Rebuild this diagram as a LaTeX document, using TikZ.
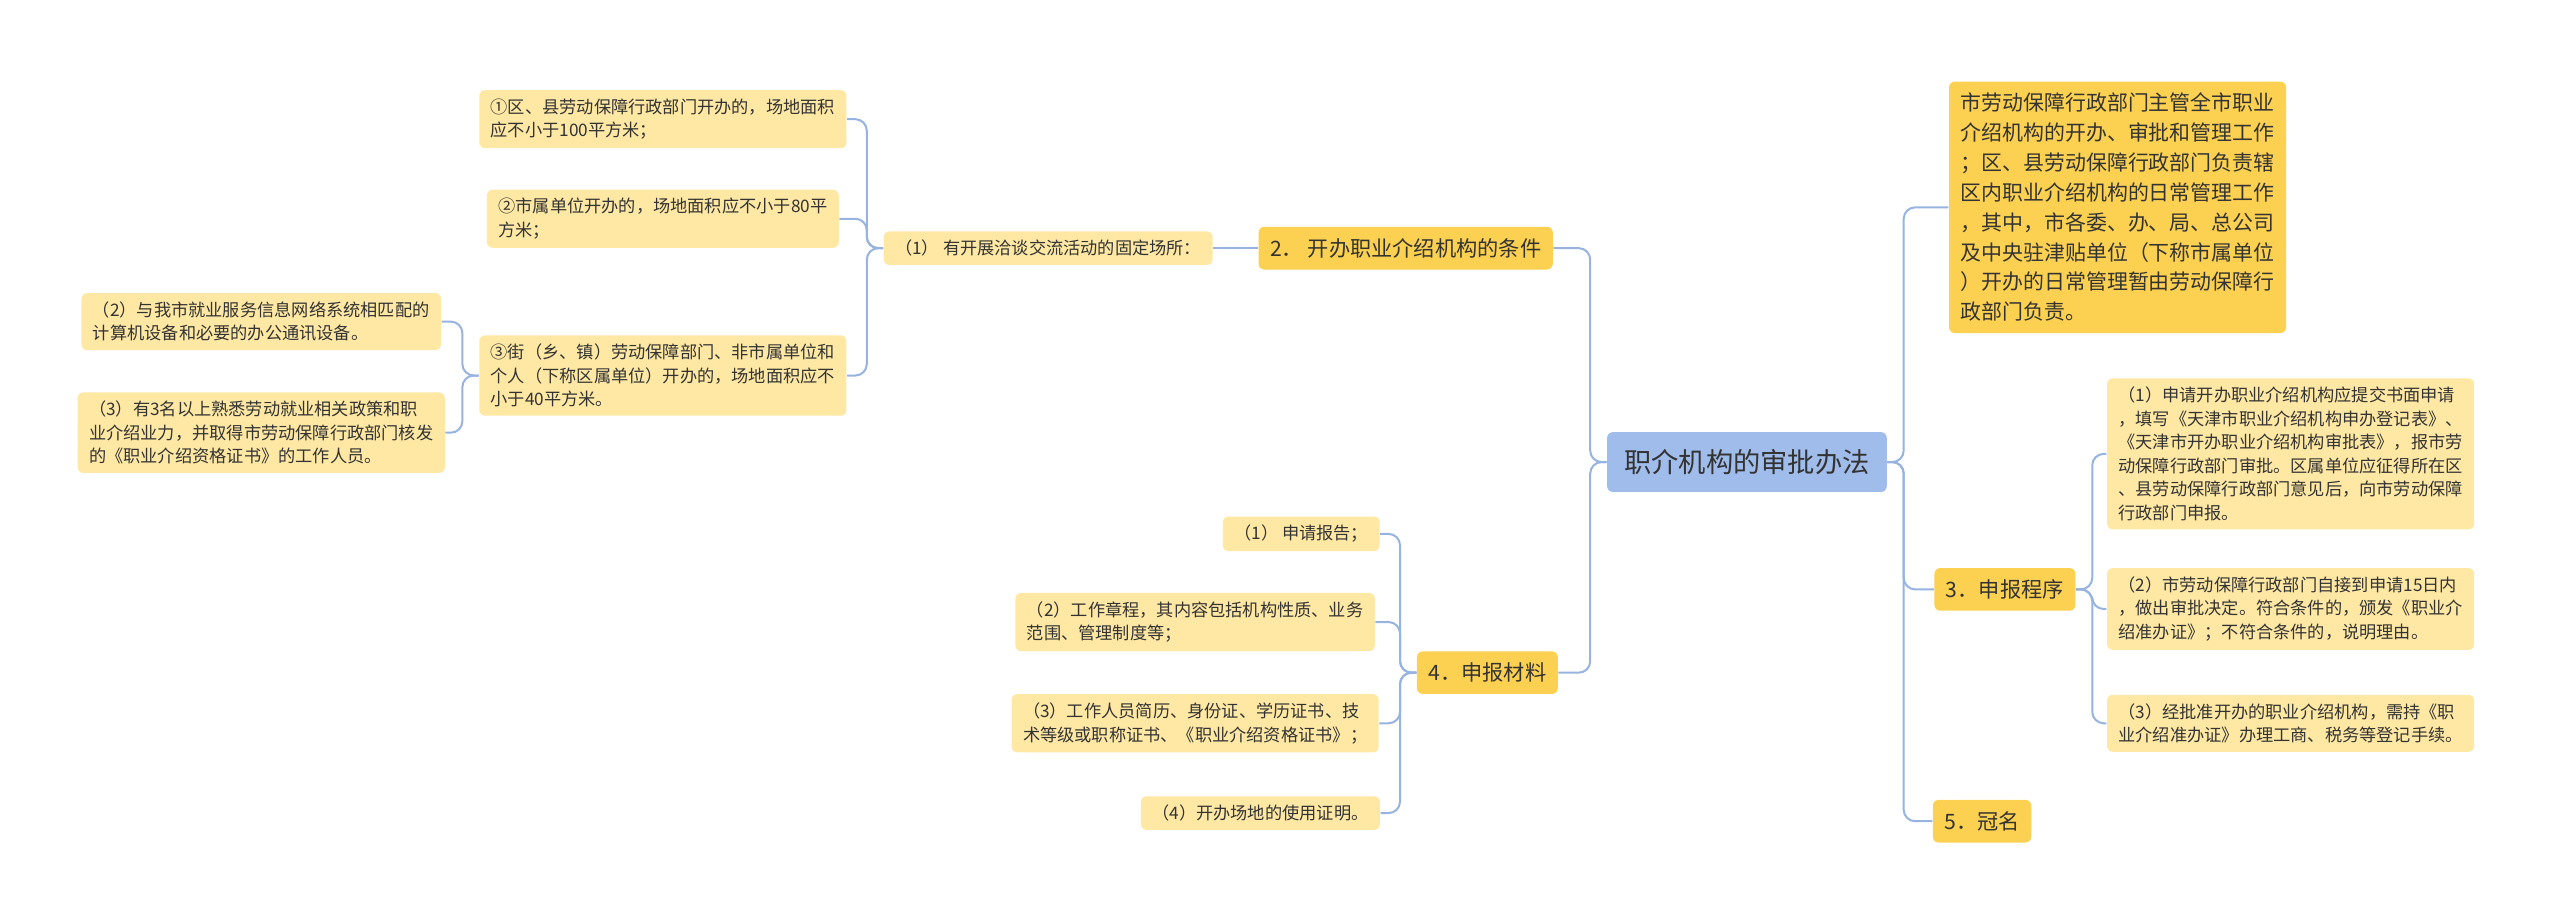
\documentclass[tikz,border=0pt]{standalone}
\usepackage{fontspec}
\setmainfont{Noto Sans CJK SC}
\XeTeXlinebreaklocale "zh"
\definecolor{rootfill}{HTML}{A0BCEA}
\definecolor{mainfill}{HTML}{FCD050}
\definecolor{leaffill}{HTML}{FEE8A4}
\definecolor{linkcol}{HTML}{97B3E0}
\definecolor{txt}{HTML}{333333}

\begin{document}
\begin{tikzpicture}[x=0.02cm, y=-0.02cm,
    every node/.style={text=txt, align=left, rounded corners=2pt},
    rootbox/.style={fill=rootfill, font=\fontsize{9.5}{12}\selectfont, inner xsep=6pt, inner ysep=6pt},
    mainbox/.style={fill=mainfill, font=\fontsize{7.4}{9.4}\selectfont, inner xsep=4pt, inner ysep=4pt},
    leafbox/.style={fill=leaffill, font=\fontsize{6}{8.2}\selectfont, inner xsep=4pt, inner ysep=3pt},
    link/.style={draw=linkcol, line width=0.7pt, rounded corners=4pt}]
  \useasboundingbox (0,0) rectangle (1568,565);

  % centre
  \node[rootbox] (root) at (1070,283) {职介机构的审批办法};

  % right side
  \node[mainbox, font=\fontsize{7.3}{10.4}\selectfont] (duty) at (1297,127) {市劳动保障行政部门主管全市职业\\介绍机构的开办、审批和管理工作\\；区、县劳动保障行政部门负责辖\\区内职业介绍机构的日常管理工作\\，其中，市各委、办、局、总公司\\及中央驻津贴单位（下称市属单位\\）开办的日常管理暂由劳动保障行\\政部门负责。};
  \node[mainbox] (proc) at (1228,361) {3．申报程序};
  \node[mainbox] (name) at (1214,503) {5．冠名};

  \node[leafbox] (proc1) at (1403,278) {（1）申请开办职业介绍机构应提交书面申请\\，填写《天津市职业介绍机构申办登记表》、\\《天津市开办职业介绍机构审批表》，报市劳\\动保障行政部门审批。区属单位应征得所在区\\、县劳动保障行政部门意见后，向市劳动保障\\行政部门申报。};
  \node[leafbox] (proc2) at (1403,373) {（2）市劳动保障行政部门自接到申请15日内\\，做出审批决定。符合条件的，颁发《职业介\\绍准办证》；不符合条件的，说明理由。};
  \node[leafbox] (proc3) at (1403,443) {（3）经批准开办的职业介绍机构，需持《职\\业介绍准办证》办理工商、税务等登记手续。};

  % left side
  \node[mainbox] (cond) at (861,152) {2．  开办职业介绍机构的条件};
  \node[mainbox] (mat) at (911,412) {4．申报材料};

  \node[leafbox] (site) at (642,152) {（1）  有开展洽谈交流活动的固定场所：};
  \node[leafbox] (siteA) at (406,73) {①区、县劳动保障行政部门开办的，场地面积\\应不小于100平方米；};
  \node[leafbox] (siteB) at (406,134) {②市属单位开办的，场地面积应不小于80平\\方米；};
  \node[leafbox] (siteC) at (406,230) {③街（乡、镇）劳动保障部门、非市属单位和\\个人（下称区属单位）开办的，场地面积应不\\小于40平方米。};
  \node[leafbox] (equip) at (160,197) {（2）与我市就业服务信息网络系统相匹配的\\计算机设备和必要的办公通讯设备。};
  \node[leafbox] (staff) at (160,265) {（3）有3名以上熟悉劳动就业相关政策和职\\业介绍业力，并取得市劳动保障行政部门核发\\的《职业介绍资格证书》的工作人员。};

  \node[leafbox] (mat1) at (797,327) {（1）  申请报告；};
  \node[leafbox] (mat2) at (732,381) {（2）工作章程，其内容包括机构性质、业务\\范围、管理制度等；};
  \node[leafbox] (mat3) at (732,443) {（3）工作人员简历、身份证、学历证书、技\\术等级或职称证书、《职业介绍资格证书》；};
  \node[leafbox] (mat4) at (772,498) {（4）开办场地的使用证明。};

  % connectors
  \foreach \c in {duty,proc,name}
    \draw[link] (root.east) -- ++(10,0) |- (\c.west);
  \foreach \c in {proc1,proc2,proc3}
    \draw[link] (proc.east) -- ++(10,0) |- (\c.west);
  \foreach \c in {cond,mat}
    \draw[link] (root.west) -- ++(-10,0) |- (\c.east);
  \draw[link] (cond.west) -- (site.east);
  \foreach \c in {siteA,siteB,siteC}
    \draw[link] (site.west) -- ++(-10,0) |- (\c.east);
  \foreach \c in {equip,staff}
    \draw[link] (siteC.west) -- ++(-10,0) |- (\c.east);
  \foreach \c in {mat1,mat2,mat3,mat4}
    \draw[link] (mat.west) -- ++(-10,0) |- (\c.east);
\end{tikzpicture}
\end{document}
